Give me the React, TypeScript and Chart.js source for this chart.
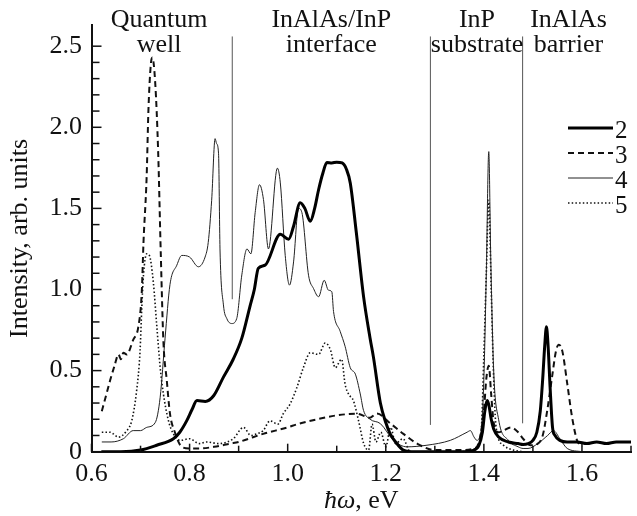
import { useEffect, useRef } from "react";
import { Chart, registerables } from "chart.js";

Chart.register(...registerables);

const FONT = '"Liberation Serif", "Times New Roman", serif';

// ---- axis ticks ----
const xMajorTicks = [0.6, 0.8, 1.0, 1.2, 1.4, 1.6];
const xTickLabels = ["0.6", "0.8", "1.0", "1.2", "1.4", "1.6"];
const xMinorTicks = [0.7, 0.9, 1.1, 1.3, 1.5, 1.7];
const yMajorTicks = [0, 0.5, 1.0, 1.5, 2.0, 2.5];
const yTickLabels = ["0", "0.5", "1.0", "1.5", "2.0", "2.5"];
const yMinorTicks = [0.1, 0.2, 0.3, 0.4, 0.6, 0.7, 0.8, 0.9, 1.1, 1.2, 1.3, 1.4, 1.6, 1.7, 1.8, 1.9, 2.1, 2.2, 2.3, 2.4];

// ---- series: [photon energy eV, intensity arb. units] ----
const curve2: [number, number][] = [
  [0.62, 0], [0.66, 0], [0.70, 0.01], [0.733, 0.04], [0.767, 0.08], [0.78, 0.12], [0.794, 0.19],
  [0.805, 0.26], [0.815, 0.315], [0.832, 0.31], [0.849, 0.345], [0.869, 0.46], [0.889, 0.57],
  [0.9065, 0.70], [0.923, 0.895], [0.932, 1.0], [0.94, 1.13], [0.954, 1.15], [0.985, 1.34],
  [1.002, 1.31], [1.012, 1.39], [1.0255, 1.535], [1.035, 1.50], [1.046, 1.42], [1.055, 1.50],
  [1.063, 1.615], [1.072, 1.72], [1.08, 1.783], [1.09, 1.78], [1.10, 1.785], [1.111, 1.78],
  [1.12, 1.74], [1.1276, 1.657], [1.14, 1.35], [1.155, 0.95], [1.168, 0.70], [1.175, 0.58],
  [1.189, 0.30], [1.20, 0.18], [1.209, 0.11], [1.22, 0.06], [1.236, 0.01], [1.26, 0], [1.30, 0],
  [1.35, 0], [1.38, 0.01], [1.39, 0.04], [1.397, 0.12], [1.402, 0.25], [1.4065, 0.315], [1.41, 0.29],
  [1.415, 0.2], [1.42, 0.14], [1.43, 0.09], [1.45, 0.06], [1.47, 0.05], [1.48, 0.045], [1.49, 0.05],
  [1.50, 0.07], [1.508, 0.12], [1.515, 0.25], [1.52, 0.45], [1.524, 0.65], [1.5276, 0.77],
  [1.531, 0.65], [1.535, 0.4], [1.54, 0.15], [1.545, 0.1], [1.555, 0.07], [1.57, 0.06], [1.59, 0.06],
  [1.61, 0.05], [1.63, 0.06], [1.65, 0.05], [1.67, 0.06], [1.69, 0.06], [1.70, 0.06],
];

const curve3: [number, number][] = [
  [0.621, 0.25], [0.63, 0.35], [0.638, 0.44], [0.647, 0.53], [0.655, 0.60], [0.66, 0.57], [0.665, 0.61],
  [0.672, 0.60], [0.685, 0.69], [0.6955, 0.77], [0.7025, 0.985], [0.706, 1.29], [0.7125, 1.7],
  [0.716, 2.10], [0.721, 2.39], [0.724, 2.43], [0.73, 2.27], [0.736, 1.84], [0.741, 1.25],
  [0.7466, 0.68], [0.7535, 0.44], [0.76, 0.235], [0.77, 0.12], [0.784, 0.03], [0.80, 0.02],
  [0.821, 0.02], [0.85, 0.03], [0.883, 0.05], [0.90, 0.06], [0.95, 0.11], [1.0, 0.15], [1.02, 0.17],
  [1.06, 0.20], [1.10, 0.224], [1.14, 0.234], [1.168, 0.21], [1.182, 0.235], [1.209, 0.175],
  [1.236, 0.11], [1.264, 0.05], [1.30, 0.01], [1.35, 0.01], [1.38, 0.02], [1.39, 0.06], [1.40, 0.25],
  [1.405, 0.45], [1.41, 0.53], [1.415, 0.35], [1.42, 0.18], [1.43, 0.12], [1.44, 0.13], [1.455, 0.15],
  [1.47, 0.12], [1.48, 0.08], [1.495, 0.04], [1.51, 0.05], [1.52, 0.1], [1.529, 0.25], [1.539, 0.46],
  [1.547, 0.62], [1.5527, 0.66], [1.56, 0.62], [1.57, 0.42], [1.58, 0.21], [1.59, 0.07], [1.597, 0.04],
  [1.60, 0.03],
];

const curve4: [number, number][] = [
  [0.621, 0.06], [0.64, 0.06], [0.665, 0.08], [0.685, 0.13], [0.70, 0.13], [0.7126, 0.15], [0.73, 0.18],
  [0.74, 0.335], [0.75, 0.70], [0.76, 1.03], [0.774, 1.15], [0.784, 1.21], [0.80, 1.20], [0.818, 1.14],
  [0.8316, 1.20], [0.838, 1.29], [0.845, 1.55], [0.852, 1.93], [0.855, 1.90], [0.859, 1.84], [0.862, 1.25],
  [0.869, 0.905], [0.876, 0.82], [0.886, 0.79], [0.896, 0.82], [0.9065, 1.09], [0.917, 1.25], [0.925, 1.22],
  [0.9337, 1.474], [0.9425, 1.646], [0.9506, 1.555], [0.9608, 1.25], [0.979, 1.748], [0.985, 1.657],
  [0.995, 1.21], [1.0037, 1.027], [1.012, 1.17], [1.022, 1.50], [1.029, 1.474], [1.0425, 1.088],
  [1.0527, 1.006], [1.063, 0.955], [1.0745, 1.057], [1.083, 0.996], [1.09, 0.986], [1.0935, 0.864],
  [1.107, 0.742], [1.117, 0.65], [1.1276, 0.518], [1.138, 0.478], [1.148, 0.356], [1.1547, 0.254],
  [1.168, 0.20], [1.189, 0.173], [1.216, 0.07], [1.243, 0.03], [1.284, 0.04], [1.3316, 0.07],
  [1.3657, 0.12], [1.3725, 0.13], [1.38, 0.09], [1.386, 0.07], [1.395, 0.15], [1.40, 0.45], [1.405, 1.1],
  [1.41, 1.85], [1.414, 1.2], [1.42, 0.5], [1.43, 0.2], [1.45, 0.07], [1.47, 0.03], [1.48, 0.02],
  [1.49, 0.02], [1.51, 0.05], [1.53, 0.10], [1.542, 0.13], [1.555, 0.08], [1.57, 0.02], [1.60, 0],
];

const curve5: [number, number][] = [
  [0.621, 0.12], [0.638, 0.12], [0.655, 0.09], [0.672, 0.13], [0.682, 0.19], [0.692, 0.376], [0.699, 0.62],
  [0.7025, 0.884], [0.706, 1.09], [0.7126, 1.22], [0.718, 1.21], [0.726, 1.047], [0.733, 0.78],
  [0.74, 0.52], [0.7466, 0.356], [0.757, 0.19], [0.767, 0.11], [0.7806, 0.07], [0.80, 0.08],
  [0.82, 0.05], [0.835, 0.06], [0.86, 0.05], [0.889, 0.08], [0.91, 0.15], [0.925, 0.10], [0.937, 0.11],
  [0.95, 0.13], [0.964, 0.19], [0.98, 0.17], [0.991, 0.234], [1.005, 0.295], [1.0188, 0.396],
  [1.032, 0.518], [1.046, 0.61], [1.063, 0.60], [1.0765, 0.67], [1.087, 0.63], [1.097, 0.518],
  [1.11, 0.57], [1.117, 0.417], [1.124, 0.356], [1.134, 0.315], [1.1446, 0.19], [1.155, 0.05],
  [1.165, 0.01], [1.172, 0.17], [1.18, 0.06], [1.19, 0.12], [1.20, 0.03], [1.21, 0.15], [1.22, 0.05],
  [1.235, 0.08], [1.25, 0], [1.30, 0], [1.35, 0], [1.385, 0.02], [1.395, 0.15], [1.40, 0.6],
  [1.405, 1.1], [1.41, 1.55], [1.415, 1.0], [1.42, 0.45], [1.425, 0.15], [1.44, 0.04], [1.46, 0.01],
  [1.48, 0],
];

// ---- region separators (eV) and their vertical extent ----
const separatorE = [0.887, 1.291, 1.479];
const separatorLow = [0.94, 0.165, 0.175];
const separatorHigh = [2.56, 2.56, 2.56];

// ---- region captions ----
const regionLine1 = ["Quantum", "InAlAs/InP", "InP", "InAlAs"];
const regionLine2 = ["well", "interface", "substrate", "barrier"];
const regionCenterE = [0.738, 1.089, 1.386, 1.5725];

// ---- legend ----
const seriesNames = ["2", "3", "4", "5"];

const seriesStyles = [
  { color: "#000", width: 3, dash: [] as number[] },
  { color: "#111", width: 2, dash: [6, 4] },
  { color: "#222", width: 1, dash: [] as number[] },
  { color: "#111", width: 1.6, dash: [1.5, 2.2] },
];

const overlayPlugin = {
  id: "overlay",
  afterDraw(chart: any) {
    const { ctx, chartArea } = chart;
    const xs = chart.scales.x;
    const ys = chart.scales.y;
    ctx.save();
    // inward tick marks
    ctx.strokeStyle = "#111";
    ctx.lineWidth = 1.5;
    ctx.setLineDash([]);
    const b = chartArea.bottom;
    const l = chartArea.left;
    const tickX = (v: number, len: number) => {
      const p = xs.getPixelForValue(v);
      ctx.beginPath();
      ctx.moveTo(p, b);
      ctx.lineTo(p, b - len);
      ctx.stroke();
    };
    const tickY = (v: number, len: number) => {
      const p = ys.getPixelForValue(v);
      ctx.beginPath();
      ctx.moveTo(l, p);
      ctx.lineTo(l + len, p);
      ctx.stroke();
    };
    xMajorTicks.forEach((v) => tickX(v, 8));
    xMinorTicks.forEach((v) => tickX(v, 6));
    yMajorTicks.forEach((v) => tickY(v, 10));
    yMinorTicks.forEach((v) => tickY(v, 8));

    // region captions
    ctx.fillStyle = "#111";
    ctx.font = `26px ${FONT}`;
    ctx.textAlign = "center";
    ctx.textBaseline = "alphabetic";
    regionCenterE.forEach((e, i) => {
      const p = xs.getPixelForValue(e);
      ctx.fillText(regionLine1[i], p, 27);
      ctx.fillText(regionLine2[i], p, 52);
    });

    // legend
    ctx.textAlign = "left";
    ctx.font = `25px ${FONT}`;
    seriesNames.forEach((name, i) => {
      const st = seriesStyles[i];
      const baseY = 138 + i * 25;
      ctx.beginPath();
      ctx.strokeStyle = st.color;
      ctx.lineWidth = st.width;
      ctx.setLineDash(st.dash);
      ctx.moveTo(568, baseY - 10);
      ctx.lineTo(613, baseY - 10);
      ctx.stroke();
      ctx.fillText(name, 615, baseY);
    });

    // x-axis title with italic ħω
    ctx.setLineDash([]);
    const italicPart = "\u0127\u03c9";
    const normalPart = ", eV";
    ctx.font = `italic 26px ${FONT}`;
    const w1 = ctx.measureText(italicPart).width;
    ctx.font = `26px ${FONT}`;
    const w2 = ctx.measureText(normalPart).width;
    const cx = (chartArea.left + chartArea.right) / 2;
    const start = cx - (w1 + w2) / 2;
    ctx.font = `italic 26px ${FONT}`;
    ctx.fillText(italicPart, start, 508);
    ctx.font = `26px ${FONT}`;
    ctx.fillText(normalPart, start + w1, 508);
    ctx.restore();
  },
};

export default function App() {
  const ref = useRef<HTMLCanvasElement | null>(null);
  useEffect(() => {
    document.body.style.margin = "0";
    const canvas = ref.current;
    if (!canvas) return;
    const curves = [curve2, curve3, curve4, curve5];
    const datasets: any[] = curves.map((c, i) => ({
      label: seriesNames[i],
      data: c.map(([x, y]) => ({ x, y })),
      borderColor: seriesStyles[i].color,
      borderWidth: seriesStyles[i].width,
      borderDash: seriesStyles[i].dash,
      pointRadius: 0,
      fill: false,
      cubicInterpolationMode: "monotone",
      borderJoinStyle: "round",
      order: i,
    }));
    separatorE.forEach((e, i) => {
      datasets.push({
        label: "sep" + i,
        data: [
          { x: e, y: separatorLow[i] },
          { x: e, y: separatorHigh[i] },
        ],
        borderColor: "#555",
        borderWidth: 1,
        pointRadius: 0,
        fill: false,
        order: 10,
      });
    });
    const chart = new Chart(canvas, {
      type: "line",
      data: { datasets },
      options: {
        animation: false,
        responsive: false,
        maintainAspectRatio: false,
        devicePixelRatio: 1,
        layout: { padding: { left: 0, right: 6, top: 20, bottom: 0 } },
        plugins: { legend: { display: false }, tooltip: { enabled: false }, title: { display: false } },
        scales: {
          x: {
            type: "linear",
            min: 0.6,
            max: 1.7,
            afterFit: (s: any) => {
              s.height = 64.3;
            },
            afterBuildTicks: (s: any) => {
              s.ticks = xMajorTicks.map((v) => ({ value: v }));
            },
            ticks: {
              callback: (_v: any, i: number) => xTickLabels[i],
              font: { family: FONT, size: 26 },
              color: "#111",
              padding: 7,
              maxRotation: 0,
              autoSkip: false,
            },
            grid: { display: false, drawTicks: false },
            border: { display: true, color: "#111", width: 2 },
          },
          y: {
            type: "linear",
            min: 0,
            max: 2.63,
            afterFit: (s: any) => {
              s.width = 91.5;
            },
            afterBuildTicks: (s: any) => {
              s.ticks = yMajorTicks.map((v) => ({ value: v }));
            },
            ticks: {
              callback: (_v: any, i: number) => yTickLabels[i],
              font: { family: FONT, size: 26 },
              color: "#111",
              padding: 9.5,
              autoSkip: false,
            },
            title: {
              display: true,
              text: "Intensity, arb. units",
              font: { family: FONT, size: 26 },
              color: "#111",
              padding: { top: 5, bottom: 0 },
            },
            grid: { display: false, drawTicks: false },
            border: { display: true, color: "#111", width: 2 },
          },
        },
      },
      plugins: [overlayPlugin],
    } as any);
    return () => chart.destroy();
  }, []);
  return (
    <div style={{ width: 637, height: 516 }}>
      <canvas ref={ref} width={637} height={516} style={{ width: 637, height: 516, display: "block" }} />
    </div>
  );
}
